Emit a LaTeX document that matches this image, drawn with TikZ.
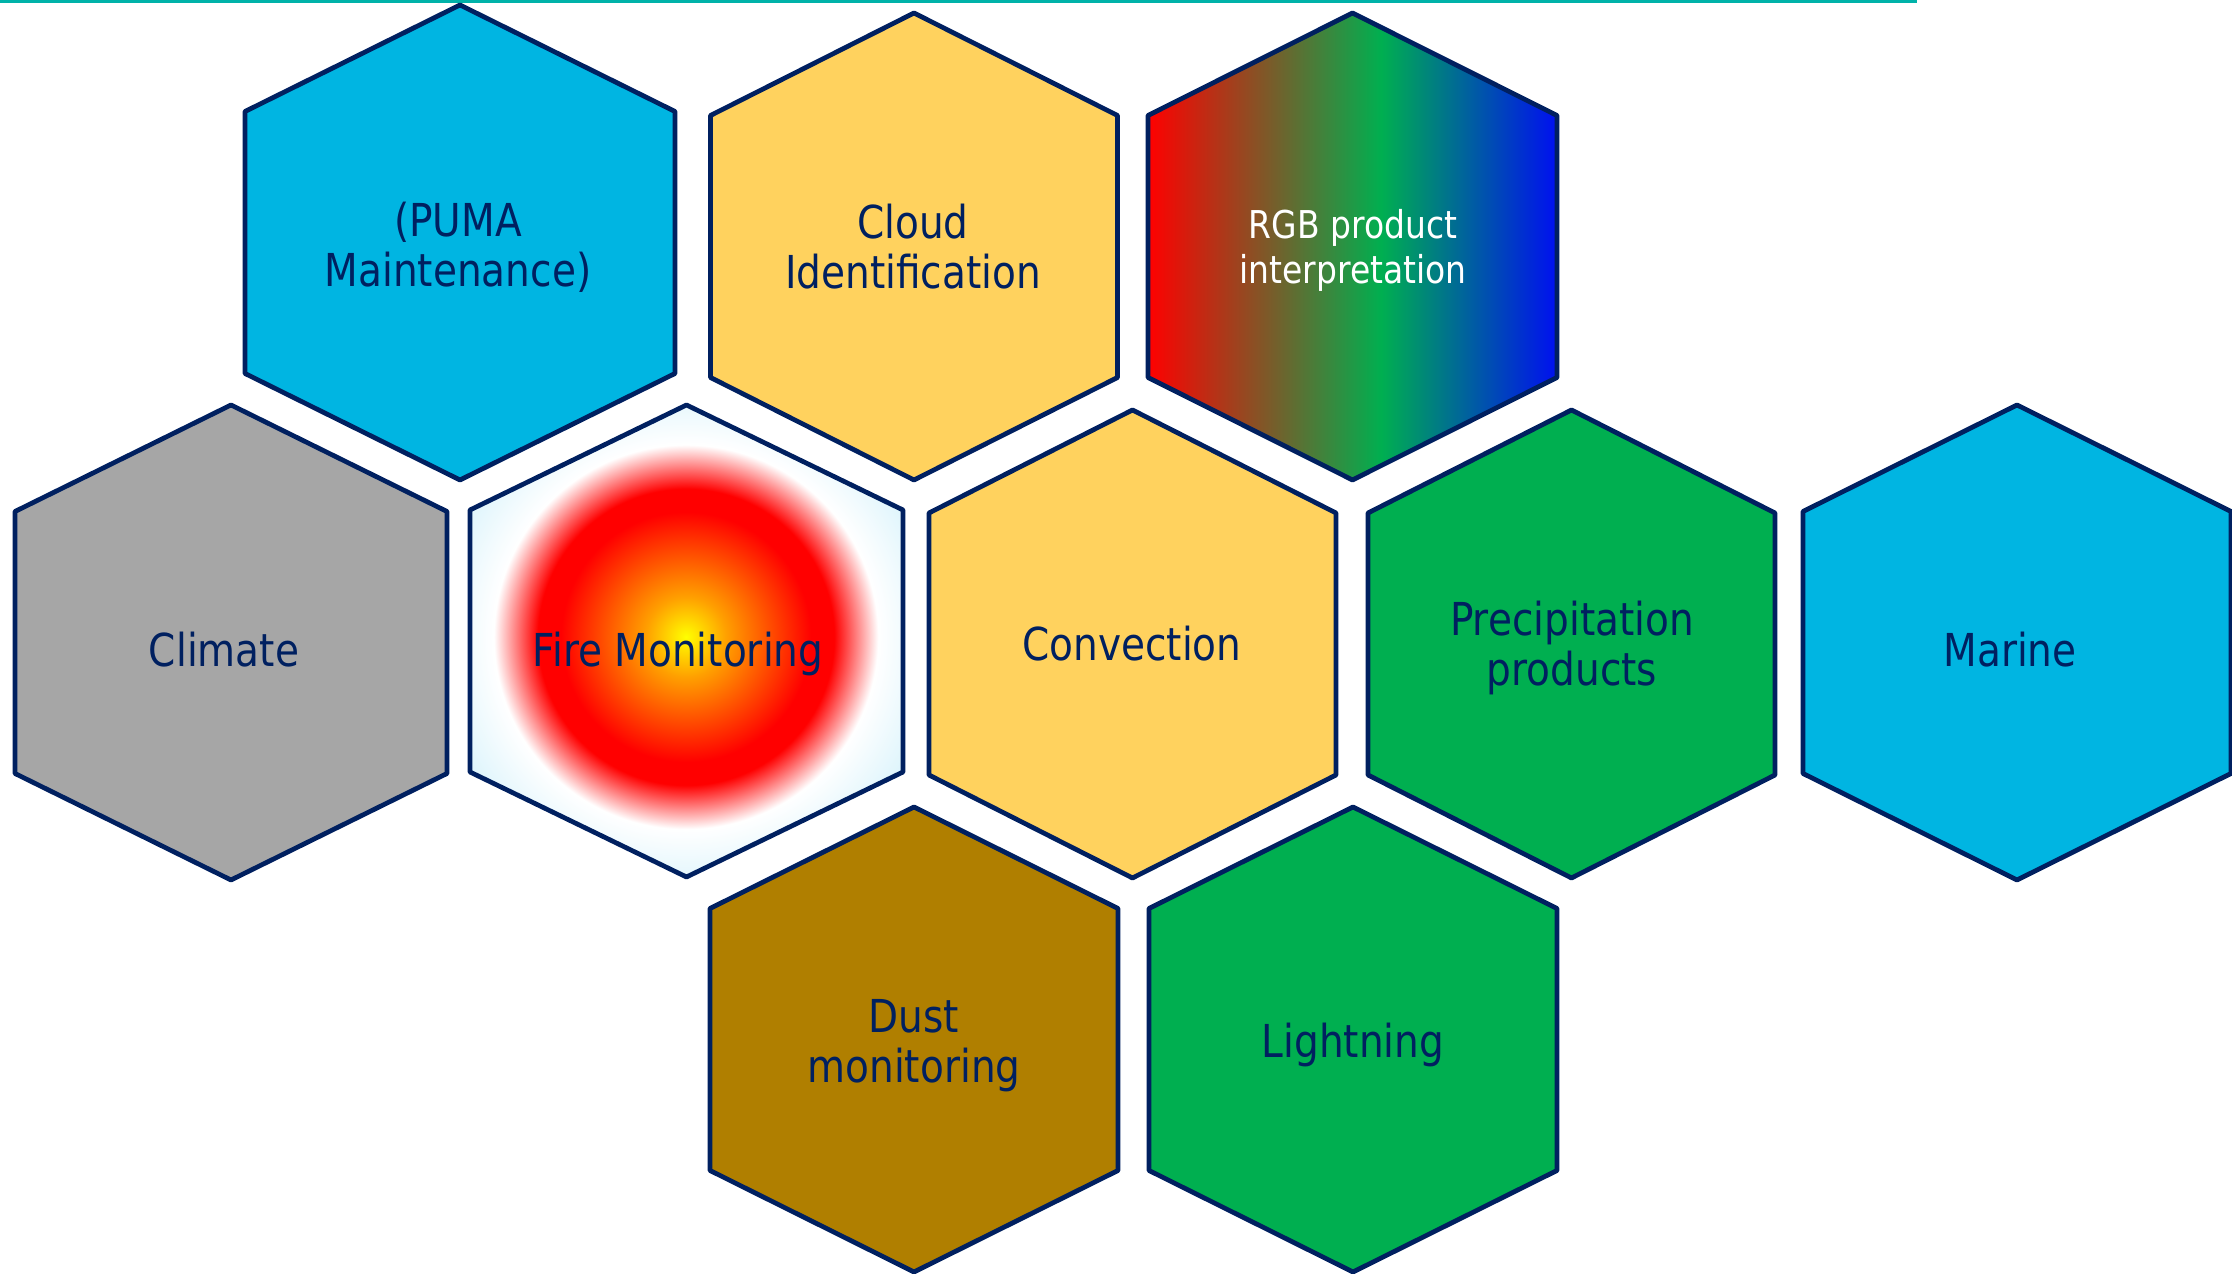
\documentclass[tikz,border=0pt]{standalone}
\usepackage{fontspec}
\setmainfont{DejaVu Sans}[FakeStretch=0.86]

\definecolor{navy}{HTML}{002060}
\definecolor{skyblue}{HTML}{00B5E2}
\definecolor{sunny}{HTML}{FFD25E}
\definecolor{leafgreen}{HTML}{00AF50}
\definecolor{stone}{HTML}{A6A6A6}
\definecolor{ochre}{HTML}{B07F00}
\definecolor{rulecol}{HTML}{00B2A9}
\definecolor{firesky}{HTML}{DFF5FC}
\definecolor{fireorange}{HTML}{FFA000}
\definecolor{rgbblue}{HTML}{0010F0}

% shadings for the two special cells
\pgfdeclarehorizontalshading{rgbband}{100bp}{color(0bp)=(red); color(25bp)=(red);
  color(53.5bp)=(leafgreen); color(75bp)=(rgbblue); color(100bp)=(rgbblue)}
\pgfdeclareradialshading{fireglow}{\pgfpoint{0bp}{0bp}}{color(0bp)=(yellow);
  color(4bp)=(fireorange); color(12.5bp)=(red); color(14.8bp)=(red);
  color(19.2bp)=(white); color(25bp)=(firesky); color(50bp)=(firesky)}

% hexagon: centre x, centre y, half width, half height
\newcommand{\hexcell}[4]{(#1,#2-#4) -- ++(#3,#4-131) -- ++(0,262) -- ++(-#3,#4-131)
  -- ++(-#3,131-#4) -- ++(0,-262) -- cycle}

\begin{document}
\begin{tikzpicture}[x=0.01cm,y=-0.01cm,font=\fontsize{12.9}{14.2}\selectfont,
    cell/.style={draw=navy,line width=1.35pt,line join=round},
    tag/.style={text=navy,align=center,text depth=0pt,inner sep=0pt}]

    \useasboundingbox (0,0) rectangle (2232,1274);

    % top rule
    \fill [rulecol] (0,0) rectangle (1917,3.5);

    % plain cells
    \foreach \cx/\cy/\hw/\hh/\col in {460/242.5/215/237.5/skyblue,
        914/246.5/203.5/233.5/sunny, 231/642.5/216/237.5/stone,
        1132.5/644/203.5/234/sunny, 1571.5/644/203.5/234/leafgreen,
        2017/642.5/214/237.5/skyblue, 914/1039.5/204/232.5/ochre,
        1353/1039.5/204/232.5/leafgreen}
        \draw [cell,fill=\col] \hexcell{\cx}{\cy}{\hw}{\hh};

    % rgb cell
    \shade [cell,shading=rgbband] \hexcell{1352.5}{246.5}{204.5}{233.5};

    % fire cell
    \fill [firesky] \hexcell{686.5}{641}{216.5}{236};
    \begin{scope}
        \clip \hexcell{686.5}{641}{216.5}{236};
        \shade [shading=fireglow] (686,637) circle (2.5cm);
    \end{scope}
    \draw [cell] \hexcell{686.5}{641}{216.5}{236};

    % labels
    \node [tag] (puma) at (458,244) {(PUMA\\Maintenance)};
    \node [tag] (cloud) at (913,246) {Cloud\\Identification};
    \node [tag,text=white,font=\fontsize{10.9}{12.8}\selectfont] (rgb) at (1353,246.5)
        {RGB product\\interpretation};
    \node [tag] (climate) at (224,649.5) {Climate};
    \node [tag] (fire) at (678,649.5) {Fire Monitoring};
    \node [tag] (convection) at (1132,643) {Convection};
    \node [tag] (precip) at (1572,643) {Precipitation\\products};
    \node [tag] (marine) at (2010,649.5) {Marine};
    \node [tag] (dust) at (914,1041) {Dust\\monitoring};
    \node [tag] (lightning) at (1353,1040) {Lightning};

\end{tikzpicture}
\end{document}
